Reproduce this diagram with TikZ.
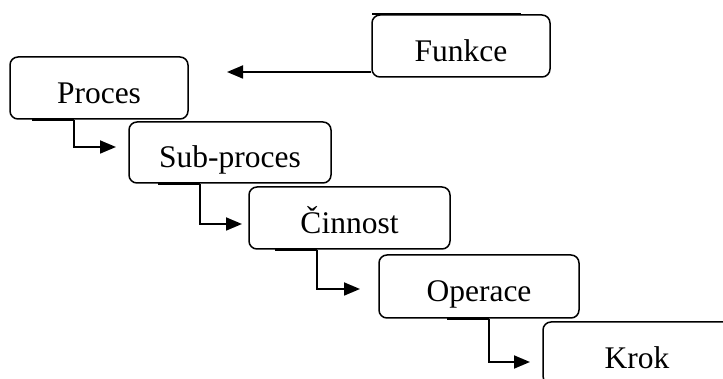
\documentclass[tikz,border=0pt]{standalone}
\usepackage{fontspec}
\setmainfont{Liberation Serif}
\usetikzlibrary{arrows.meta}
\begin{document}
\begin{tikzpicture}[x=1pt,y=-1pt,
  stage/.style={draw, line width=1.5pt, rounded corners=8pt, inner sep=0pt,
    text height=31pt, text depth=0pt, minimum height=62pt,
    font=\fontsize{31.5}{36}\selectfont},
  link/.style={line width=1.8pt, -{Triangle[length=16pt,width=13pt]}},
  seam/.style={line width=2.4pt, line cap=butt}]
\useasboundingbox (0,0) rectangle (723,379);
\begin{scope}
\clip (0,0) rectangle (723,379);
% the hierarchy levels, stepping down to the right
\node[stage, minimum width=178pt] (funkce) at (461,46) {Funkce};
\node[stage, minimum width=178pt] (proces) at (99,88) {Proces};
\node[stage, minimum width=202pt, minimum height=61pt] (sub) at (230,152.5) {Sub-proces};
\node[stage, minimum width=201pt] (cinnost) at (349.5,218) {Činnost};
\node[stage, minimum width=200pt, minimum height=63pt] (operace) at (479,286.5) {Operace};
% last box runs past the right edge; its label sits left of the box centre
\node[stage, minimum width=210pt] (krok) at (648,353) {\hspace*{-22pt}Krok};

% heavier stretches along some box edges
\draw[seam] ([xshift=-89pt,yshift=0.5pt]funkce.north) -- ([xshift=60pt,yshift=0.5pt]funkce.north);
\draw[seam] ([xshift=-67pt,yshift=-0.5pt]proces.south) -- ([xshift=-25pt,yshift=-0.5pt]proces.south);
\draw[seam] ([xshift=-72pt,yshift=-0.5pt]sub.south) -- ([xshift=-30pt,yshift=-0.5pt]sub.south);
\draw[seam] ([xshift=-74.5pt,yshift=-0.5pt]cinnost.south) -- ([xshift=-32.5pt,yshift=-0.5pt]cinnost.south);
\draw[seam] ([xshift=-32pt,yshift=-0.5pt]operace.south) -- ([xshift=10pt,yshift=-0.5pt]operace.south);

% connectors
\coordinate (fa) at (227,72);
\draw[link] (funkce.west |- fa) -- (fa);

\coordinate (k1) at (74,147);  \coordinate (t1) at (116,147);
\coordinate (k2) at (200,224); \coordinate (t2) at (242,224);
\coordinate (k3) at (317,289); \coordinate (t3) at (360,289);
\coordinate (k4) at (489,362); \coordinate (t4) at (530,362);
\draw[link] (proces.south -| k1) -- (k1) -- (t1);
\draw[link] (sub.south -| k2) -- (k2) -- (t2);
\draw[link] (cinnost.south -| k3) -- (k3) -- (t3);
\draw[link] (operace.south -| k4) -- (k4) -- (t4);
\end{scope}
\end{tikzpicture}
\end{document}
